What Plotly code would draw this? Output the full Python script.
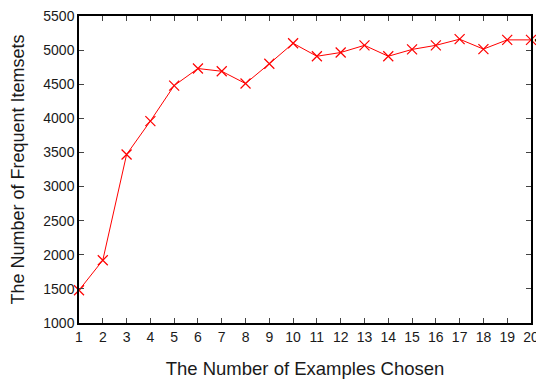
import plotly.graph_objects as go

examples = list(range(1, 21))
itemsets = [1480, 1920, 3470, 3960, 4480, 4730, 4690, 4510, 4800, 5100,
            4910, 4965, 5070, 4910, 5010, 5070, 5160, 5015, 5150, 5150]
y_ticks = [1000, 1500, 2000, 2500, 3000, 3500, 4000, 4500, 5000, 5500]

font = "Liberation Sans, Arial, Helvetica, sans-serif"

fig = go.Figure()
fig.add_trace(go.Scatter(
    x=examples, y=itemsets, mode="lines+markers",
    line=dict(color="#ff0000", width=1),
    marker=dict(symbol="x-thin-open", size=10, color="#ff0000",
                line=dict(color="#ff0000", width=1.2)),
    cliponaxis=False, showlegend=False))

fig.add_annotation(x=examples[-1], y=itemsets[-1], text="<", showarrow=False,
                   xanchor="left", xshift=1, font=dict(size=20, color="black", family=font))

# page body has an 8px default margin, so the figure is offset by 8px
fig.update_layout(
    width=536, height=371,
    margin=dict(l=71, r=13, t=8, b=56),
    paper_bgcolor="white", plot_bgcolor="white",
    font=dict(family=font, color="#1a1a1a"),
    xaxis=dict(range=[1, 20], tickvals=examples, ticks="inside", ticklen=5,
               showline=True, linecolor="black", linewidth=1.5, mirror="ticks",
               showgrid=False, zeroline=False, tickfont=dict(size=14), automargin=False,
               ticklabeloverflow="allow",
               title=dict(text="The Number of Examples Chosen", font=dict(size=18.5), standoff=20)),
    yaxis=dict(range=[1000, 5500], tickvals=y_ticks, ticks="inside", ticklen=5,
               showline=True, linecolor="black", linewidth=1.5, mirror="ticks",
               showgrid=False, zeroline=False, tickfont=dict(size=14), automargin=False,
               ticklabeloverflow="allow",
               title=dict(text="The Number of Frequent Itemsets", font=dict(size=18), standoff=14)),
)

fig.write_html("out.html")
